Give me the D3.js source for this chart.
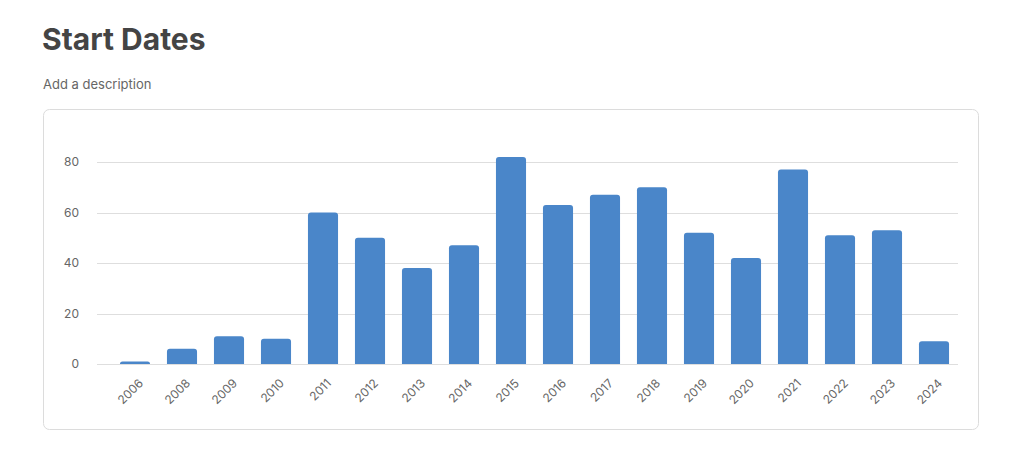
<!DOCTYPE html>
<html><head><meta charset="utf-8">
<script src="https://cdn.jsdelivr.net/npm/d3@7"></script>
<style>
body{margin:0;background:#fff;font-family:"Helvetica Neue",Inter,"Liberation Sans",Arial,sans-serif;}
</style></head>
<body><svg id="c" width="1018" height="450"></svg>
<script>
const categories = ["2006","2008","2009","2010","2011","2012","2013","2014","2015","2016","2017","2018","2019","2020","2021","2022","2023","2024"];
const values = [1,6,11,10,60,50,38,47,82,63,67,70,52,42,77,51,53,9];
const yTicks = [0,20,40,60,80];

const svg = d3.select("#c");
svg.append("text").attr("x",42).attr("y",50).attr("font-size",30).attr("font-weight",700)
  .attr("fill","#444").attr("font-family","Inter, 'Liberation Sans', sans-serif").text("Start Dates");
svg.append("text").attr("x",43).attr("y",89).attr("font-size",13).attr("fill","#666")
  .attr("font-family","Inter, 'Liberation Sans', sans-serif").text("Add a description");
svg.append("rect").attr("x",43.5).attr("y",109.5).attr("width",935).attr("height",320).attr("rx",6)
  .attr("fill","#fff").attr("stroke","#dcdcdc");

const x = d3.scaleBand().domain(categories).range([111.5,957.5]).paddingInner(0.36).paddingOuter(0.18);
const y = d3.scaleLinear().domain([0,80]).range([364,162]);

const g = svg.append("g").attr("font-family","Inter, 'Liberation Sans', sans-serif");
g.selectAll("line.grid").data(yTicks).join("line").attr("class","grid")
  .attr("x1",97).attr("x2",958).attr("y1",d=>Math.round(y(d))+0.5).attr("y2",d=>Math.round(y(d))+0.5)
  .attr("stroke","#dedede");
g.selectAll("text.yl").data(yTicks).join("text").attr("class","yl")
  .attr("x",79).attr("y",d=>y(d)+4).attr("text-anchor","end").attr("font-size",12).attr("fill","#666").text(d=>d);

const r = 3;
g.selectAll("path.bar").data(values).join("path").attr("class","bar")
  .attr("fill","#4a86c9")
  .attr("d",(d,i)=>{
    const x0 = x(categories[i]), w = x.bandwidth(), y0 = y(d), yb = y(0);
    const rr = Math.min(r, (yb-y0));
    return `M${x0},${yb}V${y0+rr}Q${x0},${y0} ${x0+rr},${y0}H${x0+w-rr}Q${x0+w},${y0} ${x0+w},${y0+rr}V${yb}Z`;
  });

g.selectAll("text.xl").data(categories).join("text").attr("class","xl")
  .attr("transform",d=>`translate(${x(d)+x.bandwidth()/2+6},${381}) rotate(-45)`)
  .attr("text-anchor","end").attr("dy","0.35em").attr("font-size",12).attr("fill","#666").text(d=>d);
</script></body></html>
